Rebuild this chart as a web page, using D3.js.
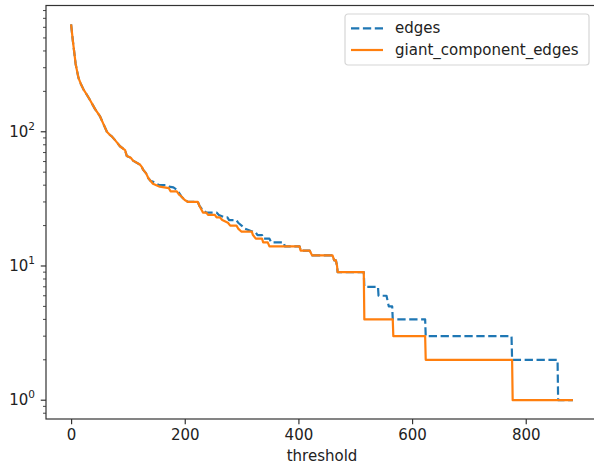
<!DOCTYPE html>
<html>
<head>
<meta charset="utf-8">
<script src="https://cdn.jsdelivr.net/npm/d3@7"></script>
<style>
    body { margin: 0; background: #fff; }
    text { font-family: 'DejaVu Sans', sans-serif; fill: #222; }
</style>
</head>
<body>
<div class="container"></div>
<script>
// [threshold, number of edges]
const edges = [
    [0, 632], [3, 480], [5, 409], [8, 320], [13, 252], [17, 228], [22, 206], [28, 188],
    [33, 173], [42, 148], [51, 130], [57, 114], [63, 100], [68, 95], [72, 92], [77, 87],
    [82, 82], [86, 78], [95, 73], [98, 66], [105, 64], [109, 61], [121, 57], [124, 55],
    [127, 52], [132, 49], [136, 45], [140, 43], [144, 42.5], [150, 41], [156, 40], [168, 40],
    [172, 39], [180, 38.5], [186, 37], [190, 35], [194, 33], [200, 31], [206, 30], [223, 30],
    [226, 28], [232, 26], [238, 25], [256, 25], [260, 24], [270, 23], [275, 23], [278, 22],
    [291, 22], [294, 21], [300, 20], [305, 19], [320, 18], [324, 18], [328, 17], [336, 17],
    [338, 16], [349, 16], [352, 15], [374, 15], [376, 14], [402, 14], [404, 13], [420, 13],
    [424, 12], [460, 12], [463, 11], [466, 11], [468, 10], [469, 9], [515, 9], [516, 7],
    [540, 7], [541, 6], [555, 6], [559, 5], [565, 5], [566, 4], [623, 4], [624, 3],
    [775, 3], [776, 2], [856, 2], [857, 1], [883, 1],
];

const giantComponentEdges = [
    [0, 632], [3, 480], [5, 409], [8, 320], [13, 252], [17, 228], [22, 206], [28, 188],
    [33, 173], [42, 148], [51, 130], [57, 114], [63, 100], [68, 95], [72, 92], [77, 87],
    [82, 82], [86, 78], [95, 73], [98, 66], [105, 64], [109, 61], [121, 57], [124, 55],
    [127, 52], [132, 49], [136, 45], [140, 43], [144, 41], [150, 40], [156, 39], [172, 38],
    [175, 36], [186, 36], [190, 34], [194, 33], [200, 31], [206, 30], [223, 30], [226, 28],
    [232, 25], [238, 25], [241, 24], [253, 24], [256, 23], [262, 23], [266, 22], [276, 21],
    [280, 20], [291, 20], [294, 19], [300, 18], [318, 18], [320, 17], [325, 16], [336, 16],
    [338, 15], [346, 15], [349, 14], [402, 14], [404, 13], [420, 13], [424, 12], [460, 12],
    [463, 11], [466, 11], [468, 10], [469, 9], [515, 9], [516, 4], [566, 4], [567, 3],
    [623, 3], [624, 2], [776, 2], [777, 1], [883, 1],
];

const seriesNames = ['edges', 'giant_component_edges'];
const xTicks = [0, 200, 400, 600, 800];
const yTicks = [1, 10, 100];

const w = 594;
const h = 468;
const plot = { left: 46, right: 598, top: 5.5, bottom: 419 };
const colors = ['#1f77b4', '#ff7f0e'];

const svg = d3.select('.container')
    .append('svg')
    .attr('width', w)
    .attr('height', h);

// matplotlib style 5% margins (log space for y)
const all = edges.concat(giantComponentEdges);
const [tMin, tMax] = d3.extent(all, d => d[0]);
const tPad = (tMax - tMin) * 0.05;
const [lMin, lMax] = d3.extent(all, d => Math.log10(d[1]));
const lPad = (lMax - lMin) * 0.05;

const xScale = d3.scaleLinear().domain([tMin - tPad, tMax + tPad]).range([plot.left, plot.right]);
const yScale = d3.scaleLog().domain([10 ** (lMin - lPad), 10 ** (lMax + lPad)]).range([plot.bottom, plot.top]);

const line = d3.line()
    .x(d => xScale(d[0]))
    .y(d => yScale(d[1]));

[edges, giantComponentEdges].forEach((data, i) => {
    svg.append('path')
        .datum(data)
        .attr('d', line)
        .attr('fill', 'none')
        .attr('stroke', colors[i])
        .attr('stroke-width', 2.2)
        .attr('stroke-linejoin', 'round')
        .attr('stroke-dasharray', i === 0 ? '8.3,3.6' : null);
});

// frame
svg.append('rect')
    .attr('x', plot.left)
    .attr('y', plot.top)
    .attr('width', plot.right - plot.left)
    .attr('height', plot.bottom - plot.top)
    .attr('fill', 'none')
    .attr('stroke', '#333')
    .attr('stroke-width', 1.2);

// x axis
const xAxis = svg.append('g')
    .attr('transform', `translate(0, ${plot.bottom})`)
    .call(d3.axisBottom(xScale).tickValues(xTicks).tickSize(5.25).tickPadding(5.5));
xAxis.select('.domain').remove();
xAxis.selectAll('.tick line').attr('stroke', '#333').attr('stroke-width', 1.2);
xAxis.selectAll('.tick text')
    .style('font-size', '15px')
    .style('font-family', "'DejaVu Sans', sans-serif")
    .attr('fill', '#222');

svg.append('text')
    .text('threshold')
    .attr('x', (plot.left + plot.right) / 2)
    .attr('y', 461)
    .attr('text-anchor', 'middle')
    .style('font-size', '15px');

// y axis: minor ticks
const [d0, d1] = yScale.domain();
const minor = [];
for (let e = Math.floor(Math.log10(d0)); e <= Math.ceil(Math.log10(d1)); e++) {
    for (let m = 2; m <= 9; m++) {
        const v = m * 10 ** e;
        if (v >= d0 && v <= d1) minor.push(v);
    }
}
svg.append('g')
    .selectAll('line')
    .data(minor)
    .join('line')
    .attr('x1', plot.left - 3)
    .attr('x2', plot.left)
    .attr('y1', d => yScale(d))
    .attr('y2', d => yScale(d))
    .attr('stroke', '#333')
    .attr('stroke-width', 0.9);

const yTick = svg.append('g')
    .selectAll('g')
    .data(yTicks)
    .join('g')
    .attr('transform', d => `translate(0, ${yScale(d)})`);
yTick.append('line')
    .attr('x1', plot.left - 5.25)
    .attr('x2', plot.left)
    .attr('stroke', '#333')
    .attr('stroke-width', 1.2);
const yLabel = yTick.append('text')
    .attr('x', plot.left - 11)
    .attr('y', 5)
    .attr('text-anchor', 'end')
    .style('font-size', '15px');
yLabel.append('tspan').text('10');
yLabel.append('tspan')
    .text(d => Math.round(Math.log10(d)))
    .attr('dy', -7)
    .style('font-size', '10.5px');

// legend
const legend = svg.append('g').attr('transform', 'translate(345, 14)');
legend.append('rect')
    .attr('width', 244)
    .attr('height', 51)
    .attr('rx', 3)
    .attr('fill', '#fff')
    .attr('fill-opacity', 0.8)
    .attr('stroke', '#d6d6d6')
    .attr('stroke-width', 1.2);
seriesNames.forEach((name, i) => {
    const cy = 14.3 + i * 21.7;
    legend.append('line')
        .attr('x1', 6)
        .attr('x2', 38)
        .attr('y1', cy)
        .attr('y2', cy)
        .attr('stroke', colors[i])
        .attr('stroke-width', 2.2)
        .attr('stroke-dasharray', i === 0 ? '8.3,3.6' : null);
    legend.append('text')
        .text(name)
        .attr('x', 50)
        .attr('y', cy + 5)
        .style('font-size', '15px');
});
</script>
</body>
</html>
